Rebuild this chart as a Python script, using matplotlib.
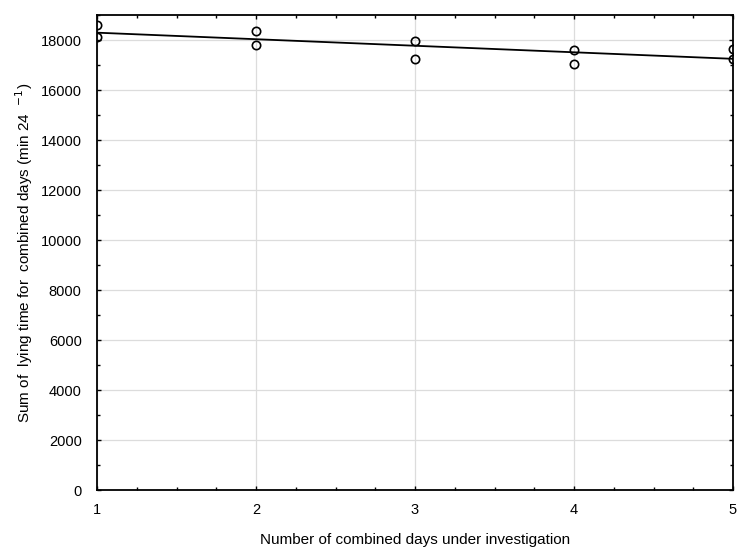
import numpy as np
import matplotlib
matplotlib.use("Agg")
import matplotlib.pyplot as plt
from matplotlib.ticker import MultipleLocator

plt.rcParams["font.family"] = ["Liberation Sans", "DejaVu Sans"]

# combined days and the summed lying time (two animals/groups per day)
days = [1, 1, 2, 2, 3, 3, 4, 4, 5, 5]
lying_sum = [18620, 18140, 18380, 17800, 17980, 17230, 17600, 17030, 17660, 17260]

x_ticks = [1, 2, 3, 4, 5]
y_ticks = list(range(0, 18001, 2000))

fig = plt.figure(figsize=(7.37, 5.49), dpi=100)
ax = fig.add_axes([97 / 737, 1 - 490 / 549, 636 / 737, 475 / 549])

# linear fit through the points
slope, intercept = np.polyfit(days, lying_sum, 1)
fit_x = np.array([1, 5])
ax.plot(fit_x, slope * fit_x + intercept, color="black", lw=1.3, zorder=3)

ax.plot(days, lying_sum, "o", mfc="none", mec="black", ms=6, mew=1.2,
        zorder=4, clip_on=True)

ax.set_xlim(1, 5)
ax.set_ylim(0, 19000)
ax.set_xticks(x_ticks)
ax.set_yticks(y_ticks)
ax.xaxis.set_minor_locator(MultipleLocator(0.25))
ax.yaxis.set_minor_locator(MultipleLocator(1000))

ax.grid(True, which="major", color="#dcdcdc", lw=0.9)
ax.set_axisbelow(True)

ax.tick_params(which="both", direction="in", top=True, right=True,
               labelsize=10.5, width=1)
ax.tick_params(which="major", length=3)
ax.tick_params(which="minor", length=2.5)
ax.tick_params(axis="x", pad=9)
ax.tick_params(axis="y", pad=11)

for s in ax.spines.values():
    s.set_linewidth(1.3)

ax.set_xlabel("Number of combined days under investigation", fontsize=11,
              labelpad=12)
ax.set_ylabel("Sum of  lying time for  combined days (min 24  $^{-1}$)",
              fontsize=11, labelpad=4)

fig.savefig("out.png", dpi=100)
